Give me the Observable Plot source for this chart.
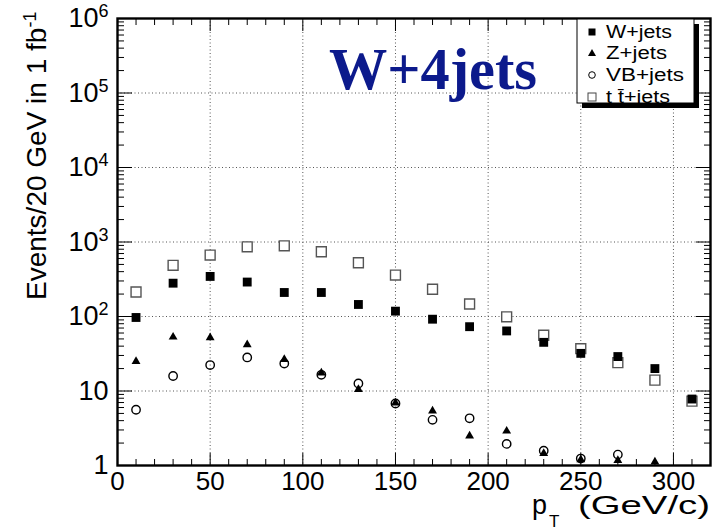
<!DOCTYPE html>
<html><head><meta charset="utf-8">
<script src="https://cdn.jsdelivr.net/npm/d3@7"></script>
<script src="https://cdn.jsdelivr.net/npm/@observablehq/plot@0.6"></script>
<style>
body{margin:0;background:#fff}
#wrap{position:relative;width:714px;height:530px}
#wrap svg.ov{position:absolute;left:0;top:0;pointer-events:none}
</style></head><body><div id="wrap"></div>
<script>
// ---- data ----
const ptBins = [10, 30, 50, 70, 90, 110, 130, 150, 170, 190, 210, 230, 250, 270, 290, 310];
const wJets  = [97, 280, 345, 290, 210, 210, 145, 118, 92, 73, 64, 45, 32, 29, 20, 7.8];
const zJets  = [25, 53, 52, 42, 26.5, 17.5, 10.5, 6.9, 5.4, 2.5, 2.9, 1.45, 1.2, 1.17, 1.12];
const vbJets = [5.6, 15.9, 22.3, 28.2, 23.4, 16.5, 12.6, 6.8, 4.1, 4.3, 1.95, 1.58, 1.24, 1.4];
const ttJets = [213, 486, 668, 862, 889, 739, 527, 360, 232, 147, 99, 56, 37, 24, 14, 7.3];
const seriesNames = ["W+jets", "Z+jets", "VB+jets", "t t\u0304+jets"];
const xMajorTicks = [0, 50, 100, 150, 200, 250, 300];
const xMinorTicks = [10, 20, 30, 40, 60, 70, 80, 90, 110, 120, 130, 140, 160, 170, 180, 190, 210, 220, 230, 240, 260, 270, 280, 290, 310];
const yMajorTicks = [1, 10, 100, 1000, 10000, 100000, 1000000];
const yMinorMultipliers = [2, 3, 4, 5, 6, 7, 8, 9];

const yMinorTicks = yMajorTicks.slice(0, -1).flatMap(d => yMinorMultipliers.map(m => d * m));
const rows = (ys, s) => ys.map((v, i) => ({pt: ptBins[i], n: v, s}));
const wRows = rows(wJets, seriesNames[0]);
const zRows = rows(zJets, seriesNames[1]);
const vbRows = rows(vbJets, seriesNames[2]);
const ttRows = rows(ttJets, seriesNames[3]);

const fmtY = d => d === 1 ? "1" : d === 10 ? "10" : "10^" + Math.round(Math.log10(d));
const blank = () => "";
const grid = {stroke: "#555", strokeOpacity: 1, strokeWidth: 1, strokeDasharray: "1,2.5"};

const plot = Plot.plot({
  width: 714, height: 530,
  marginLeft: 117, marginRight: 4, marginTop: 18, marginBottom: 65,
  x: {domain: [0, 320]},
  y: {type: "log", domain: [1, 1e6]},
  style: {fontFamily: "'Liberation Sans', Arial, sans-serif", fontSize: "27px", color: "#000", background: "#fff", overflow: "visible"},
  marks: [
    Plot.gridX(xMajorTicks.filter(d => d > 0), grid),
    Plot.gridY(yMajorTicks.filter(d => d > 1 && d < 1e6), grid),
    Plot.axisX(xMajorTicks, {tickSize: 0, tickPadding: 6, label: null, fontSize: 26}),
    Plot.axisX(xMinorTicks, {tickSize: -6, tickFormat: blank, label: null}),
    Plot.axisX(xMajorTicks, {tickSize: -12, tickFormat: blank, label: null}),
    Plot.axisX(xMinorTicks, {anchor: "top", tickSize: -6, tickFormat: blank, label: null}),
    Plot.axisX(xMajorTicks, {anchor: "top", tickSize: -12, tickFormat: blank, label: null}),
    Plot.axisY(yMajorTicks, {tickSize: 0, tickPadding: 9, tickFormat: fmtY, label: null, fontSize: 27}),
    Plot.axisY(yMinorTicks, {tickSize: -7, tickFormat: blank, label: null}),
    Plot.axisY(yMajorTicks, {tickSize: -15, tickFormat: blank, label: null}),
    Plot.axisY(yMinorTicks, {anchor: "right", tickSize: -7, tickFormat: blank, label: null}),
    Plot.axisY(yMajorTicks, {anchor: "right", tickSize: -15, tickFormat: blank, label: null}),
    Plot.frame({stroke: "#000", strokeWidth: 2.4}),
    Plot.dot(ttRows, {x: "pt", y: "n", symbol: "square", r: 5.6, fill: "#fff", stroke: "#555", strokeWidth: 1.4}),
    Plot.dot(wRows, {x: "pt", y: "n", symbol: "square", r: 5, fill: "#000", stroke: "none"}),
    Plot.dot(vbRows, {x: "pt", y: "n", symbol: "circle", r: 4.2, fill: "none", stroke: "#000", strokeWidth: 1.4}),
    Plot.dot(zRows, {x: "pt", y: "n", symbol: "triangle", r: 3.3, fill: "#000", stroke: "none"})
  ]
});

// superscripts on the log tick labels
const NS = "http://www.w3.org/2000/svg";
plot.querySelectorAll('g[aria-label="y-axis tick label"] text').forEach(t => {
  const s = t.textContent;
  if (s.includes("^")) {
    const [b, e] = s.split("^");
    t.textContent = "";
    const t1 = document.createElementNS(NS, "tspan"); t1.textContent = b; t.appendChild(t1);
    const t2 = document.createElementNS(NS, "tspan");
    t2.setAttribute("dy", "-10"); t2.setAttribute("font-size", "18"); t2.textContent = e;
    t.appendChild(t2);
  }
});

const wrap = document.getElementById("wrap");
wrap.appendChild(plot);

// overlay: title, legend, axis titles
const ov = document.createElementNS(NS, "svg");
ov.setAttribute("class", "ov");
ov.setAttribute("width", 714); ov.setAttribute("height", 530);
ov.innerHTML = `
  <text x="329" y="89" font-family="'Liberation Serif','Times New Roman',serif" font-weight="bold" font-size="60" fill="#0c1a8c" textLength="208" lengthAdjust="spacingAndGlyphs">W+4jets</text>
  <rect x="582" y="24" width="117" height="84" fill="#000"/>
  <rect x="577" y="19" width="117" height="84" fill="#fff" stroke="#000" stroke-width="1"/>
  <rect x="588.5" y="28.5" width="7" height="7" fill="#000"/>
  <path d="M592,49 L596,56 L588,56 Z" fill="#000"/>
  <circle cx="592" cy="75" r="3.3" fill="none" stroke="#000" stroke-width="1"/>
  <rect x="588" y="93" width="8" height="8" fill="none" stroke="#444" stroke-width="1"/>
  <g font-family="'Liberation Sans', Arial, sans-serif" font-size="18" fill="#000">
    <text x="606" y="38" textLength="66" lengthAdjust="spacingAndGlyphs">${seriesNames[0]}</text>
    <text x="606" y="59" textLength="61" lengthAdjust="spacingAndGlyphs">${seriesNames[1]}</text>
    <text x="606" y="81" textLength="78" lengthAdjust="spacingAndGlyphs">${seriesNames[2]}</text>
    <text x="606" y="103" textLength="64" lengthAdjust="spacingAndGlyphs">${seriesNames[3]}</text>
  </g>
  <text transform="translate(46,300) rotate(-90)" font-family="'Liberation Sans', Arial, sans-serif" font-size="28" fill="#000">Events/20 GeV in 1 fb<tspan dy="-10" font-size="18">-1</tspan></text>
  <g font-family="'Liberation Sans', Arial, sans-serif" fill="#000">
    <text x="532" y="514" font-size="28" textLength="15" lengthAdjust="spacingAndGlyphs">p</text>
    <text x="549" y="527" font-size="17">T</text>
    <text x="578" y="514" font-size="26" textLength="132" lengthAdjust="spacingAndGlyphs">(GeV/c)</text>
  </g>
`;
wrap.appendChild(ov);
</script></body></html>
